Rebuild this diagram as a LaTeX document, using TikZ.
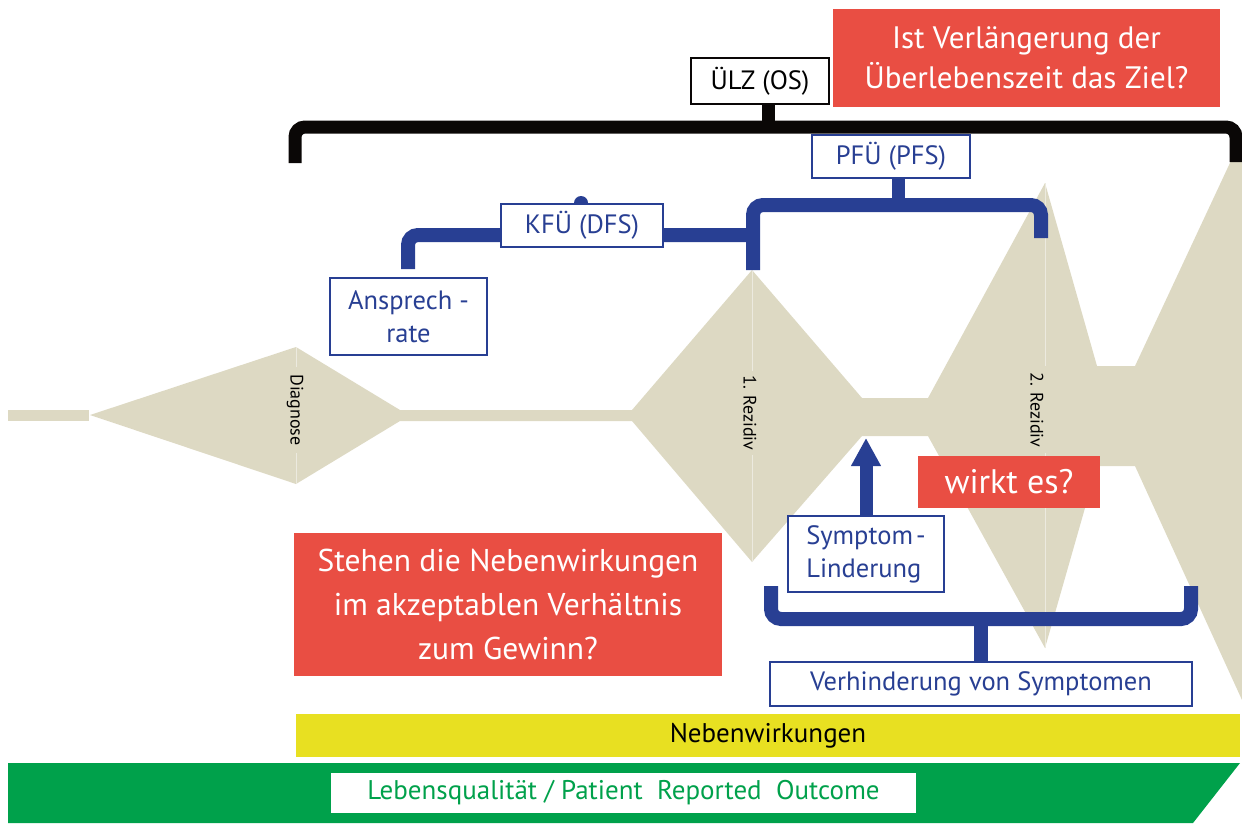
\documentclass[tikz,border=0pt]{standalone}
\usepackage{fontspec}
\setmainfont{PT Sans}
\usetikzlibrary{arrows.meta}
\definecolor{beige}{HTML}{DDD9C3}
\definecolor{beigeline}{HTML}{ECEADF}
\definecolor{redc}{HTML}{E94E43}
\definecolor{bluec}{HTML}{283F93}
\definecolor{yellowc}{HTML}{E8E021}
\definecolor{greenc}{HTML}{00A14B}
\definecolor{blackc}{HTML}{0A0706}
\tikzset{
  bluebox/.style={draw=bluec, line width=2pt, fill=white, text=bluec, inner sep=0pt, align=center, font=\fontsize{26.5}{33}\selectfont},
  redbox/.style={fill=redc, text=white, inner sep=0pt, align=center, font=\fontsize{31}{42}\selectfont},
  bluebrace/.style={draw=bluec, line width=14pt, rounded corners=10pt},
  blackbrace/.style={draw=blackc, line width=13pt, rounded corners=10pt},
  rotlabel/.style={rotate=-90, inner sep=0pt, font=\fontsize{18}{20}\selectfont},
  centerline/.style={draw=beigeline, line width=0.8pt},
}
\begin{document}
\begin{tikzpicture}[x=1pt,y=-1pt]
\useasboundingbox (0,0) rectangle (1242,823);
% disease course shape
\fill[beige] (8,410) rectangle (89,421);
\fill[beige] (90,415) -- (296,347) -- (400,410) -- (632,410) -- (752,270) -- (862,398)
  -- (928,398) -- (1045,183) -- (1097,366) -- (1135,366) -- (1236,150) -- (1242,150)
  -- (1242,700) -- (1135,466) -- (1097,466) -- (1045,648) -- (928,436) -- (862,436)
  -- (752,562) -- (632,421) -- (400,421) -- (296,484) -- cycle;
\draw[centerline] (296,347) -- (296,367) (296,453) -- (296,484);
\draw[centerline] (752,270) -- (752,371) (752,455) -- (752,562);
\draw[centerline] (1045,183) -- (1045,366) (1045,453) -- (1045,648);
\node[rotlabel] (diag) at (295,410) {Diagnose};
\node[rotlabel] (rez1) at (750,413) {1. Rezidiv};
\node[rotlabel] (rez2) at (1037,410) {2. Rezidiv};

% boxes
\node[draw=blackc, line width=2pt, fill=white, inner sep=0pt, minimum width=138, minimum height=46, font=\fontsize{26.5}{30}\selectfont] (ulz) at (760,81) {ÜLZ (OS)};
\node[redbox, minimum width=387, minimum height=98] (ziel) at (1026.5,58) {\raisebox{-2pt}{Ist Verlängerung der}\\Überlebenszeit das Ziel?};

% black brace
\coordinate (osroot) at (768,127);
\draw[blackbrace] (295,163) -- (295,127) -- (1236,127) -- (1236,162);
\draw[blackc, line width=13pt] (osroot) -- (osroot |- ulz.south);

% PFS brace
\coordinate (pfsroot) at (898,205);
\draw[bluebrace] (753,270) -- (753,205) -- (1041,205) -- (1041,238);
\node[bluebox, minimum width=158, minimum height=43] (pfs) at (891,156.5) {PFÜ (PFS)};
\draw[bluec, line width=13pt] (pfsroot) -- (pfsroot |- pfs.south);

% KFS brace
\draw[bluebrace] (408,269) -- (408,235) -- (753,235);
\fill[bluec] (581,203) circle (7);
\node[bluebox, minimum width=162, minimum height=43] (kfu) at (582,225.5) {KFÜ (DFS)};
\node[bluebox, minimum width=157, minimum height=77] (ansp) at (408.5,316.5) {Ansprech -\\rate};

% symptoms
\node[bluebox, minimum width=156, minimum height=76, align=left] (symp) at (866,554) {Symptom\hspace{0.12em}-\\Linderung};
\coordinate (tip) at (866,438);
\draw[bluec, line width=13pt, -{Triangle[width=28pt,length=28pt]}] (symp.north) -- (tip);
\node[redbox, minimum width=182, minimum height=52, font=\fontsize{34}{40}\selectfont] (wirkt) at (1009,482) {wirkt es?};
\node[redbox, minimum width=428, minimum height=143, font=\fontsize{31.5}{44}\selectfont] (neben) at (508,604.5) {Stehen die Nebenwirkungen\\im akzeptablen Verhältnis\\zum Gewinn?};

\coordinate (vroot) at (981,619);
\draw[bluebrace] (771,586) -- (771,619) -- (1191,619) -- (1191,586);
\node[bluebox, minimum width=422, minimum height=44] (verh) at (981,684) {Verhinderung von Symptomen};
\draw[bluec, line width=14pt] (vroot) -- (vroot |- verh.north);

% bottom bars
\node[fill=yellowc, inner sep=0pt, minimum width=944, minimum height=43, font=\fontsize{27}{30}\selectfont] (nw) at (768,735.5) {Nebenwirkungen};
\fill[greenc] (8,763) -- (1240,763) -- (1193,823) -- (8,823) -- cycle;
\node[fill=white, text=greenc, inner sep=0pt, minimum width=585, minimum height=40, font=\fontsize{27}{30}\selectfont] (lq) at (623.5,793) {Lebensqualität / Patient\ \ Reported\ \ Outcome};
\end{tikzpicture}
\end{document}
